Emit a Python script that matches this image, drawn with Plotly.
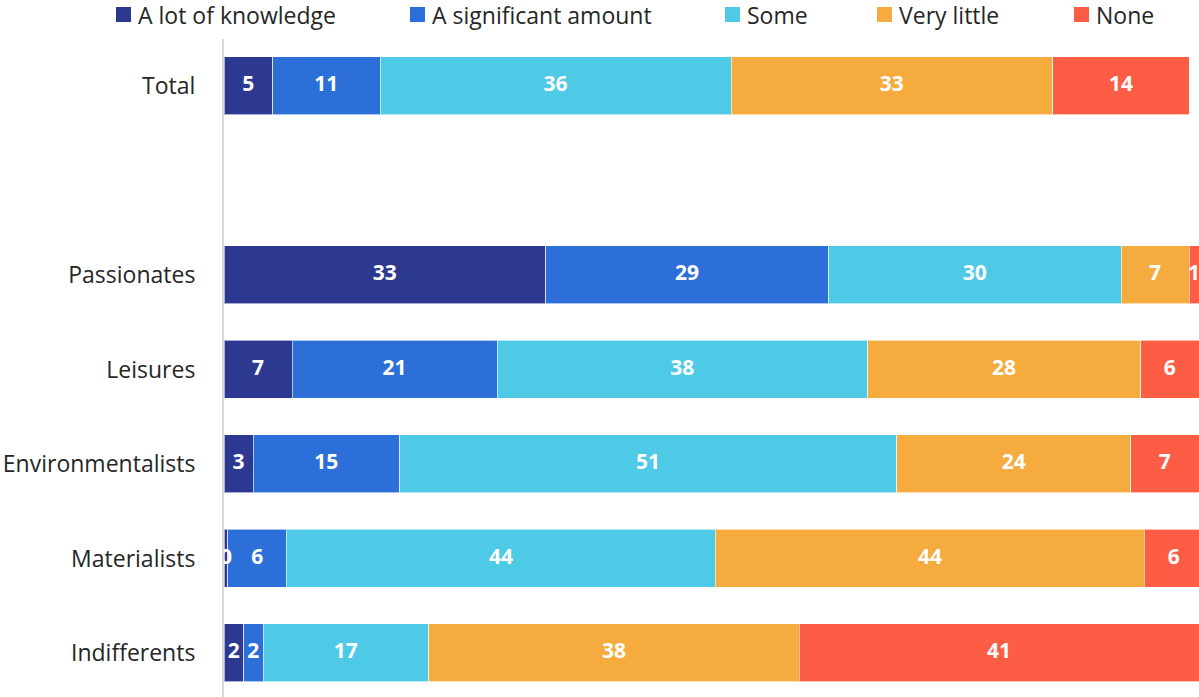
import plotly.graph_objects as go

# Survey: knowledge level by segment (percent of respondents)
categories = ["Total", "Passionates", "Leisures", "Environmentalists", "Materialists", "Indifferents"]
axis_order = ["Total", " ", "Passionates", "Leisures", "Environmentalists", "Materialists", "Indifferents"]

series_names = ["A lot of knowledge", "A significant amount", "Some", "Very little", "None"]
a_lot = [5, 33, 7, 3, 0.4, 2]
significant = [11, 29, 21, 15, 6, 2]
some = [36, 30, 38, 51, 44, 17]
very_little = [33, 7, 28, 24, 44, 38]
none = [14, 1, 6, 7, 6, 41]

colors = ["#2d3990", "#2d6fd8", "#4ec9e6", "#f5ab3e", "#fe5d45"]
series_values = [a_lot, significant, some, very_little, none]

FONT = "Open Sans"
TEXT_COLOR = "#262626"

# page geometry (pixels)
W, H = 1199, 697
M_L, M_R, M_T, M_B = 224, 0, 39, 0
PLOT_W = W - M_L - M_R
PLOT_H = H - M_T - M_B


def px_to_paper_x(px):
    return (px - M_L) / PLOT_W


def px_to_paper_y(py):
    return (H - M_B - py) / PLOT_H


fig = go.Figure()

# stacked bars
for name, vals, col in zip(series_names, series_values, colors):
    fig.add_trace(go.Bar(
        name=name,
        y=categories,
        x=vals,
        orientation="h",
        marker=dict(color=col, line=dict(color="rgba(255,255,255,0.6)", width=1)),
        hoverinfo="skip",
        showlegend=False,
    ))

# value labels centred on each segment, drawn above all bars
starts = [0.0] * len(categories)
for vals in series_values:
    mids = [s + v / 2 for s, v in zip(starts, vals)]
    fig.add_trace(go.Scatter(
        x=mids,
        y=categories,
        mode="text",
        text=[f"{v:.0f}" for v in vals],
        textposition="middle center",
        textfont=dict(family=FONT, size=21, color="white", weight="bold"),
        hoverinfo="skip",
        showlegend=False,
    ))
    starts = [s + v for s, v in zip(starts, vals)]

# legend row along the top
legend_square_px = [116, 410, 725, 877, 1074]
SQ = 15
SQ_TOP = 7
for name, col, sx in zip(series_names, colors, legend_square_px):
    fig.add_shape(
        type="rect", xref="paper", yref="paper",
        x0=px_to_paper_x(sx), x1=px_to_paper_x(sx + SQ),
        y0=px_to_paper_y(SQ_TOP + SQ), y1=px_to_paper_y(SQ_TOP),
        fillcolor=col, line=dict(width=0),
    )
    fig.add_annotation(
        xref="paper", yref="paper",
        x=px_to_paper_x(sx + SQ + 5), y=px_to_paper_y(SQ_TOP + SQ / 2),
        xanchor="left", yanchor="middle",
        text=name, showarrow=False,
        font=dict(family=FONT, size=23, color=TEXT_COLOR),
    )

fig.update_layout(
    barmode="stack",
    bargap=0.386,
    width=W,
    height=H,
    margin=dict(l=M_L, r=M_R, t=M_T, b=M_B),
    paper_bgcolor="white",
    plot_bgcolor="white",
    font=dict(family=FONT, size=23, color=TEXT_COLOR),
    showlegend=False,
    xaxis=dict(range=[0, 100], visible=False, fixedrange=True),
    yaxis=dict(
        categoryorder="array",
        categoryarray=axis_order,
        range=[6.466, -0.497],
        showline=True,
        linecolor="#d9d9d9",
        linewidth=2,
        ticks="",
        showgrid=False,
        zeroline=False,
        ticklabelstandoff=22,
        tickfont=dict(family=FONT, size=23, color=TEXT_COLOR),
    ),
)

fig.write_html("out.html")
